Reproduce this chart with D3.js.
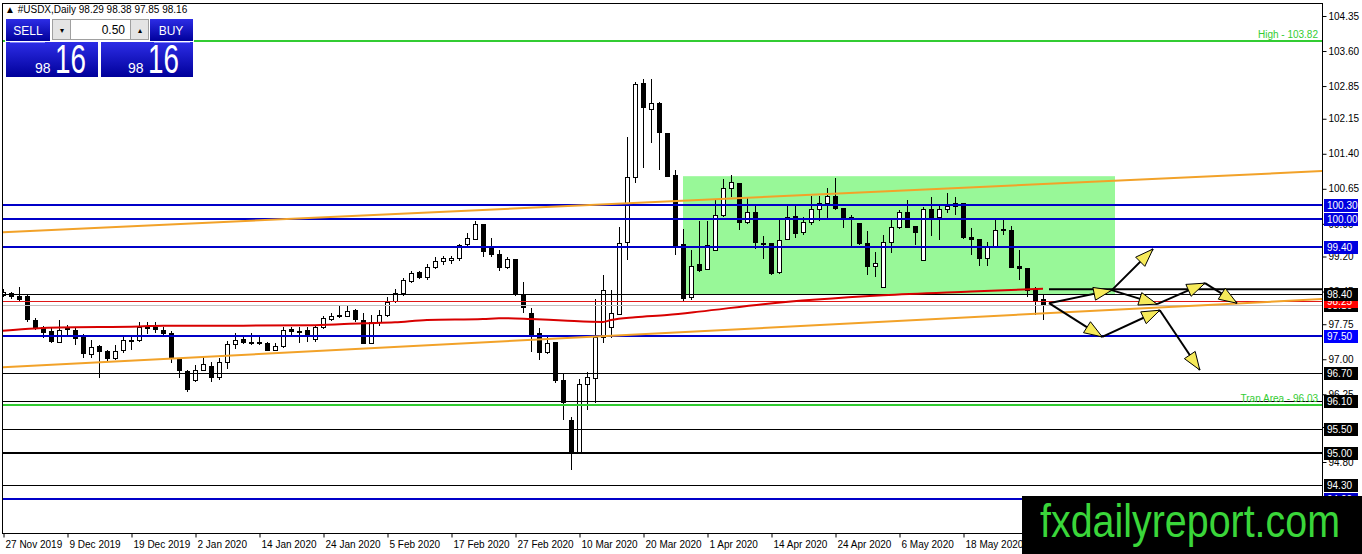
<!DOCTYPE html>
<html>
<head>
<meta charset="utf-8">
<script src="https://cdnjs.cloudflare.com/ajax/libs/d3/7.8.5/d3.min.js"></script>
<style>
html, body { margin: 0; padding: 0; background: #fff; overflow: hidden; }
svg { display: block; font-family: "Liberation Sans", Arial, sans-serif; }
</style>
</head>
<body>
<div id="chart"></div>
<script>
// daily OHLC, bar 0 = 27 Nov 2019
var openP = [98.38,98.42,98.35,98.35,97.85,97.70,97.60,97.38,97.68,97.63,
    97.48,97.13,97.28,97.17,97.02,97.20,97.39,97.41,97.68,97.70,
    97.63,97.57,97.00,96.75,96.55,96.78,96.85,96.62,96.95,97.33,
    97.44,97.38,97.38,97.35,97.20,97.28,97.65,97.60,97.63,97.43,
    97.68,97.87,97.93,97.93,98.05,97.85,97.35,97.80,97.95,98.25,
    98.42,98.68,98.86,98.75,98.97,99.10,99.12,99.17,99.46,99.58,
    99.90,99.43,99.25,98.97,99.15,98.40,98.00,97.56,97.15,97.37,
    96.55,95.70,95.02,96.48,96.60,97.47,97.68,97.98,99.50,100.90,
    102.92,102.35,102.48,101.85,100.95,99.47,98.33,99.05,98.93,99.33,
    100.09,100.67,100.78,99.94,100.15,99.50,99.49,98.87,99.57,100.07,
    99.73,99.94,100.22,100.35,100.50,100.24,100.05,99.92,99.49,99.00,
    98.55,99.51,99.83,100.15,99.85,99.12,100.22,100.05,100.22,100.28,
    100.35,99.62,99.57,99.17,99.42,99.79,99.77,99.00,98.95,98.50,
    98.29];
var highP = [98.50,98.45,98.55,98.40,97.88,97.72,97.68,97.85,97.73,97.70,
    97.55,97.42,97.30,97.20,97.30,97.48,97.48,97.80,97.80,97.80,
    97.68,97.60,97.02,96.78,96.87,97.08,96.95,97.02,97.40,97.56,
    97.53,97.56,97.53,97.38,97.35,97.70,97.68,97.70,97.70,97.73,
    97.92,98.00,98.14,98.15,98.08,97.98,97.95,98.05,98.33,98.50,
    98.75,98.88,98.90,99.05,99.18,99.22,99.22,99.47,99.70,99.95,
    99.90,99.60,99.35,99.20,99.15,98.65,98.10,97.67,97.48,97.38,
    96.70,95.77,96.58,96.73,98.30,98.80,98.48,99.83,101.76,102.94,
    103.00,103.00,102.50,101.85,101.05,99.79,99.34,99.96,99.96,100.41,
    100.86,100.95,100.78,100.45,100.30,99.64,99.49,99.98,100.30,100.30,
    100.05,100.50,100.50,100.67,100.88,100.24,100.09,99.92,99.75,99.30,
    99.66,99.98,100.20,100.41,99.85,100.26,100.48,100.28,100.56,100.48,
    100.35,99.81,99.57,99.51,99.98,100.00,99.85,99.34,98.95,98.55,
    98.38];
var lowP = [98.33,98.30,98.22,97.80,97.62,97.45,97.35,97.37,97.50,97.30,
    97.03,97.02,96.60,96.95,96.98,97.13,97.20,97.38,97.55,97.57,
    97.52,96.92,96.60,96.30,96.52,96.75,96.52,96.55,96.80,97.22,
    97.32,97.30,97.30,97.18,97.17,97.25,97.50,97.35,97.38,97.38,
    97.64,97.82,97.88,97.91,97.80,97.35,97.33,97.72,97.90,98.20,
    98.35,98.63,98.71,98.70,98.93,99.02,99.05,99.10,99.38,99.55,
    99.20,99.19,98.88,98.93,98.35,98.00,97.15,96.98,97.12,96.50,
    95.70,94.63,95.00,95.92,96.07,97.35,97.45,97.97,99.12,100.77,
    101.10,101.63,101.05,100.90,99.23,98.23,98.27,98.87,98.91,99.31,
    100.05,100.48,99.77,99.90,99.36,99.15,98.80,98.83,99.55,99.60,
    99.65,99.88,99.96,100.03,100.20,99.81,99.41,99.45,98.80,98.77,
    98.55,99.28,99.79,99.81,99.45,99.10,99.64,99.55,100.13,100.09,
    99.58,99.23,99.00,99.00,99.40,99.66,98.97,98.70,98.33,97.95,
    97.85];
var closeP = [98.45,98.35,98.29,97.85,97.68,97.60,97.38,97.63,97.63,97.45,
    97.13,97.27,97.17,97.02,97.17,97.42,97.41,97.68,97.70,97.66,
    97.57,97.05,96.77,96.37,96.77,96.90,96.62,96.95,97.33,97.42,
    97.37,97.37,97.35,97.20,97.28,97.63,97.60,97.58,97.54,97.68,
    97.88,97.93,97.94,98.03,97.85,97.35,97.80,97.95,98.22,98.42,
    98.70,98.85,98.75,98.97,99.10,99.17,99.17,99.45,99.59,99.90,
    99.33,99.25,98.97,99.15,98.40,98.12,97.56,97.15,97.35,96.55,
    96.07,95.00,96.48,96.62,97.47,98.48,97.98,99.49,100.90,102.89,
    102.40,102.48,101.85,100.92,99.45,98.31,99.00,98.93,99.45,100.09,
    100.67,100.79,99.94,100.15,99.51,99.49,98.85,99.55,100.05,99.70,
    99.94,100.22,100.35,100.50,100.24,100.03,100.00,99.49,99.00,99.06,
    99.51,99.83,100.15,99.83,99.72,100.22,100.05,100.22,100.28,100.35,
    99.62,99.57,99.17,99.40,99.77,99.77,98.97,98.95,98.48,98.25,
    98.16];

var tickBars = [0, 8, 16, 24, 32, 40, 48, 56, 64, 72, 80, 88, 96, 104, 112, 120];
var tickLabels = ["27 Nov 2019", "9 Dec 2019", "19 Dec 2019", "2 Jan 2020", "14 Jan 2020",
    "24 Jan 2020", "5 Feb 2020", "17 Feb 2020", "27 Feb 2020", "10 Mar 2020",
    "20 Mar 2020", "1 Apr 2020", "14 Apr 2020", "24 Apr 2020", "6 May 2020", "18 May 2020"];
var priceTicks = ["104.35", "103.60", "102.85", "102.15", "101.40", "100.65", "99.90",
    "99.20", "98.45", "97.75", "97.00", "96.25", "95.55", "94.80", "94.05"];

// 200 day moving average, read at some bars
var maBars = [0, 4, 7, 17, 20, 30, 39, 45, 49, 53, 60, 62, 66, 70, 75, 76, 79, 83, 87, 95, 110, 121, 130];
var maValues = [97.61, 97.66, 97.68, 97.70, 97.72, 97.72, 97.73, 97.77, 97.79, 97.84, 97.86, 97.88,
    97.86, 97.83, 97.80, 97.84, 97.90, 97.95, 98.02, 98.18, 98.37, 98.45, 98.51];

var blueLevels = [100.30, 100.00, 99.40, 97.50, 94.00];
var blackLevels = [98.40, 96.70, 96.10, 95.50, 95.00, 94.30];
var highLevel = 103.82;
var tranLevel = 96.03;
var redLevel = 98.25;
var bidLevel = 98.16;

var upperTrend = [[0, 99.72], [165, 101.03]];
var lowerTrend = [[0, 96.83], [165, 98.29]];
var rangeBox = [[85, 100.92], [139, 98.38]];
var breakLine = [[130.75, 98.50], [165, 98.50]];

// scenario arrows: [from bar, from price, to bar, to price]
var arrows = [
    [130.75, 98.20, 138.6, 98.48],
    [138.6, 98.48, 143.75, 99.36],
    [138.6, 98.48, 144.25, 98.18],
    [144.25, 98.18, 150.25, 98.63],
    [150.25, 98.63, 154.25, 98.20],
    [130.75, 98.20, 137.4, 97.48],
    [137.4, 97.48, 144.6, 98.05],
    [144.6, 98.05, 149.6, 96.77]
];

function drawChart(options) {
    var W = options.width, H = options.height;
    var plotLeft = 2, plotRight = 1322, plotTop = 3, plotBottom = 533;

    var svg = d3.select(options.container).append("svg")
        .attr("width", W).attr("height", H);

    var x = d3.scaleLinear().domain([0, 1]).range([3, 11]);
    var y = d3.scaleLinear().domain([104.35, 94.80]).range([16, 462]);
    var xMax = x.invert(plotRight);

    var defs = svg.append("defs");
    defs.append("clipPath").attr("id", "plotClip")
        .append("rect").attr("x", plotLeft).attr("y", plotTop)
        .attr("width", plotRight - plotLeft).attr("height", plotBottom - plotTop);
    var grad = defs.append("linearGradient").attr("id", "panelBlue")
        .attr("x1", 0).attr("y1", 0).attr("x2", 0).attr("y2", 1);
    grad.append("stop").attr("offset", "0%").attr("stop-color", "#2d2de6");
    grad.append("stop").attr("offset", "100%").attr("stop-color", "#00009a");

    var g = svg.append("g").attr("clip-path", "url(#plotClip)");

    // green range box
    g.append("rect")
        .attr("x", x(rangeBox[0][0])).attr("y", y(rangeBox[0][1]))
        .attr("width", x(rangeBox[1][0]) - x(rangeBox[0][0]))
        .attr("height", y(rangeBox[1][1]) - y(rangeBox[0][1]))
        .style("fill", "#98f898");

    // candles
    var bars = d3.range(openP.length);
    var cg = g.append("g").style("shape-rendering", "crispEdges");
    cg.selectAll("line.wick").data(bars).enter().append("line")
        .attr("class", "wick")
        .attr("x1", function (i) { return Math.round(x(i)) + 0.5; })
        .attr("x2", function (i) { return Math.round(x(i)) + 0.5; })
        .attr("y1", function (i) { return y(highP[i]); })
        .attr("y2", function (i) { return y(lowP[i]); })
        .style("stroke", "#000").style("stroke-width", 1);
    cg.selectAll("rect.body").data(bars).enter().append("rect")
        .attr("class", "body")
        .attr("x", function (i) { return Math.round(x(i)) - 2 + 0.5; })
        .attr("y", function (i) { return Math.round(y(Math.max(openP[i], closeP[i]))) + 0.5; })
        .attr("width", 4)
        .attr("height", function (i) {
            return Math.max(1, Math.round(Math.abs(y(openP[i]) - y(closeP[i]))));
        })
        .style("fill", function (i) { return closeP[i] >= openP[i] ? "#fff" : "#000"; })
        .style("stroke", "#000").style("stroke-width", 1);

    function hline(price, color, width) {
        g.append("line")
            .attr("x1", plotLeft).attr("x2", plotRight)
            .attr("y1", Math.round(y(price)) + (width % 2 ? 0.5 : 0))
            .attr("y2", Math.round(y(price)) + (width % 2 ? 0.5 : 0))
            .style("stroke", color).style("stroke-width", width)
            .style("shape-rendering", "crispEdges");
    }

    hline(bidLevel, "#c0c0c0", 1);
    hline(redLevel, "#e01818", 1);
    blackLevels.forEach(function (p) { hline(p, "#000", p === 95.00 ? 2 : 1); });
    hline(highLevel, "#33cc33", 2);
    hline(tranLevel, "#33cc33", 2);
    blueLevels.forEach(function (p) { hline(p, "#0000c8", 2); });

    // trend lines
    var tline = d3.line()
        .x(function (d) { return x(d[0]); })
        .y(function (d) { return y(d[1]); });
    [upperTrend, lowerTrend].forEach(function (t) {
        g.append("path").datum(t).attr("d", tline)
            .style("fill", "none").style("stroke", "#f2a229").style("stroke-width", 2);
    });

    // moving average
    var maLine = d3.line()
        .x(function (d, i) { return x(d); })
        .y(function (d, i) { return y(maValues[i]); })
        .curve(d3.curveMonotoneX);
    g.append("path").datum(maBars).attr("d", maLine)
        .style("fill", "none").style("stroke", "#d80000").style("stroke-width", 2);

    g.append("path").datum(breakLine).attr("d", tline)
        .style("fill", "none").style("stroke", "#000").style("stroke-width", 2);

    // arrows
    var ag = g.append("g");
    arrows.forEach(function (a) {
        var x1 = x(a[0]), y1 = y(a[1]), x2 = x(a[2]), y2 = y(a[3]);
        var ang = Math.atan2(y2 - y1, x2 - x1);
        var len = 18, hw = 6.5;
        ag.append("line")
            .attr("x1", x1).attr("y1", y1).attr("x2", x2).attr("y2", y2)
            .style("stroke", "#000").style("stroke-width", 2);
        var bx = x2 - len * Math.cos(ang), by = y2 - len * Math.sin(ang);
        var pts = [
            [x2, y2],
            [bx + hw * Math.sin(ang), by - hw * Math.cos(ang)],
            [bx - hw * Math.sin(ang), by + hw * Math.cos(ang)]
        ];
        ag.append("polygon")
            .attr("points", pts.map(function (p) { return p.join(","); }).join(" "))
            .style("fill", "#f6ea5a").style("stroke", "#000").style("stroke-width", 1);
    });

    // text on the lines
    g.append("text").attr("x", 1318).attr("y", y(highLevel) - 3)
        .attr("text-anchor", "end").style("font-size", "10px").style("fill", "#33cc33")
        .text("High - 103.82");
    g.append("text").attr("x", 1318).attr("y", y(tranLevel) - 3)
        .attr("text-anchor", "end").style("font-size", "10px").style("fill", "#33cc33")
        .text("Tran Area - 96.03");

    // frame
    svg.append("rect").attr("x", plotLeft + 0.5).attr("y", plotTop + 0.5)
        .attr("width", plotRight - plotLeft).attr("height", plotBottom - plotTop)
        .style("fill", "none").style("stroke", "#000").style("stroke-width", 1)
        .style("shape-rendering", "crispEdges");

    // price axis
    var yAx = svg.append("g")
        .attr("transform", "translate(" + (plotRight + 0.5) + ",0)")
        .call(d3.axisRight(y).tickValues(priceTicks.map(Number))
            .tickSize(4).tickPadding(2)
            .tickFormat(function (d, i) { return priceTicks[i]; }));
    yAx.select(".domain").remove();
    yAx.selectAll("line").style("stroke", "#000");
    yAx.selectAll("text").style("font-size", "10px").style("fill", "#000")
        .style("font-family", "'Liberation Sans', Arial, sans-serif");

    function priceBox(price, bg) {
        var yy = Math.round(y(price));
        svg.append("rect").attr("x", plotRight + 2).attr("y", yy - 6)
            .attr("width", 34).attr("height", 13).style("fill", bg);
        svg.append("text").attr("x", plotRight + 5).attr("y", yy + 4)
            .style("font-size", "10px").style("fill", "#fff").text(price.toFixed(2));
    }
    priceBox(94.00, "#0000c8");
    [96.70, 96.10, 95.50, 95.00, 94.30].forEach(function (p) { priceBox(p, "#000"); });
    priceBox(bidLevel, "#000");
    priceBox(redLevel, "#ff0000");
    priceBox(98.40, "#000");
    priceBox(97.50, "#0000ff");
    priceBox(99.40, "#0000e0");
    priceBox(100.00, "#0000e0");
    priceBox(100.30, "#0000e0");

    // time axis
    var xAx = svg.append("g")
        .attr("transform", "translate(0," + (plotBottom + 0.5) + ")")
        .call(d3.axisBottom(x).tickValues(tickBars).tickSize(4).tickPadding(3)
            .tickFormat(function (d, i) { return tickLabels[i]; }));
    xAx.select(".domain").remove();
    xAx.selectAll("line").attr("transform", "translate(0.5,0)").style("stroke", "#000");
    xAx.selectAll("text").attr("text-anchor", "start").attr("x", 2)
        .style("font-size", "10px").style("fill", "#000")
        .style("font-family", "'Liberation Sans', Arial, sans-serif");

    // header
    svg.append("text").attr("x", 5).attr("y", 13).style("font-size", "10px").style("fill", "#000")
        .text("\u25B2 #USDX,Daily  98.29 98.38 97.85 98.16");

    // one click trading panel
    var p = svg.append("g");
    p.append("rect").attr("x", 5).attr("y", 18).attr("width", 189).attr("height", 59).style("fill", "#fff");
    p.append("rect").attr("x", 6).attr("y", 19).attr("width", 44).attr("height", 22).style("fill", "url(#panelBlue)");
    p.append("rect").attr("x", 150).attr("y", 19).attr("width", 43).attr("height", 22).style("fill", "url(#panelBlue)");
    p.append("text").attr("x", 28).attr("y", 35).attr("text-anchor", "middle")
        .style("font-size", "12px").style("fill", "#fff").text("SELL");
    p.append("text").attr("x", 171).attr("y", 35).attr("text-anchor", "middle")
        .style("font-size", "12px").style("fill", "#fff").text("BUY");
    p.append("rect").attr("x", 52.5).attr("y", 19.5).attr("width", 18).attr("height", 20)
        .style("fill", "#e4e4e4").style("stroke", "#a0a0a0");
    p.append("rect").attr("x", 130.5).attr("y", 19.5).attr("width", 18).attr("height", 20)
        .style("fill", "#e4e4e4").style("stroke", "#a0a0a0");
    p.append("rect").attr("x", 70.5).attr("y", 19.5).attr("width", 60).attr("height", 20)
        .style("fill", "#fff").style("stroke", "#a0a0a0");
    p.append("text").attr("x", 61.5).attr("y", 33).attr("text-anchor", "middle")
        .style("font-size", "8px").text("\u25BE");
    p.append("text").attr("x", 139.5).attr("y", 33).attr("text-anchor", "middle")
        .style("font-size", "8px").text("\u25B4");
    p.append("text").attr("x", 125).attr("y", 34).attr("text-anchor", "end")
        .style("font-size", "12px").style("fill", "#000").text("0.50");
    p.append("rect").attr("x", 6).attr("y", 42).attr("width", 92).attr("height", 35).style("fill", "url(#panelBlue)");
    p.append("rect").attr("x", 101).attr("y", 42).attr("width", 92).attr("height", 35).style("fill", "url(#panelBlue)");
    p.append("line").attr("x1", 10).attr("x2", 45).attr("y1", 42.5).attr("y2", 42.5).style("stroke", "#8080ff");
    p.append("line").attr("x1", 154).attr("x2", 190).attr("y1", 42.5).attr("y2", 42.5).style("stroke", "#8080ff");
    [[35, 55], [128, 148]].forEach(function (pos) {
        p.append("text").attr("x", pos[0]).attr("y", 73)
            .style("font-size", "14px").style("fill", "#fff").text("98");
        p.append("text").attr("x", pos[1]).attr("y", 73)
            .attr("textLength", 31).attr("lengthAdjust", "spacingAndGlyphs")
            .style("font-size", "40px").style("fill", "#fff").text("16");
    });

    // watermark
    svg.append("rect").attr("x", 1022).attr("y", 496).attr("width", W - 1022).attr("height", H - 496)
        .style("fill", "#000");
    svg.append("text").attr("x", 1040).attr("y", 537)
        .attr("textLength", 300).attr("lengthAdjust", "spacingAndGlyphs")
        .style("font-size", "46px").style("fill", "#3ad63a").text("fxdailyreport.com");
}

drawChart({ container: "#chart", width: 1362, height: 554 });
</script>
</body>
</html>
